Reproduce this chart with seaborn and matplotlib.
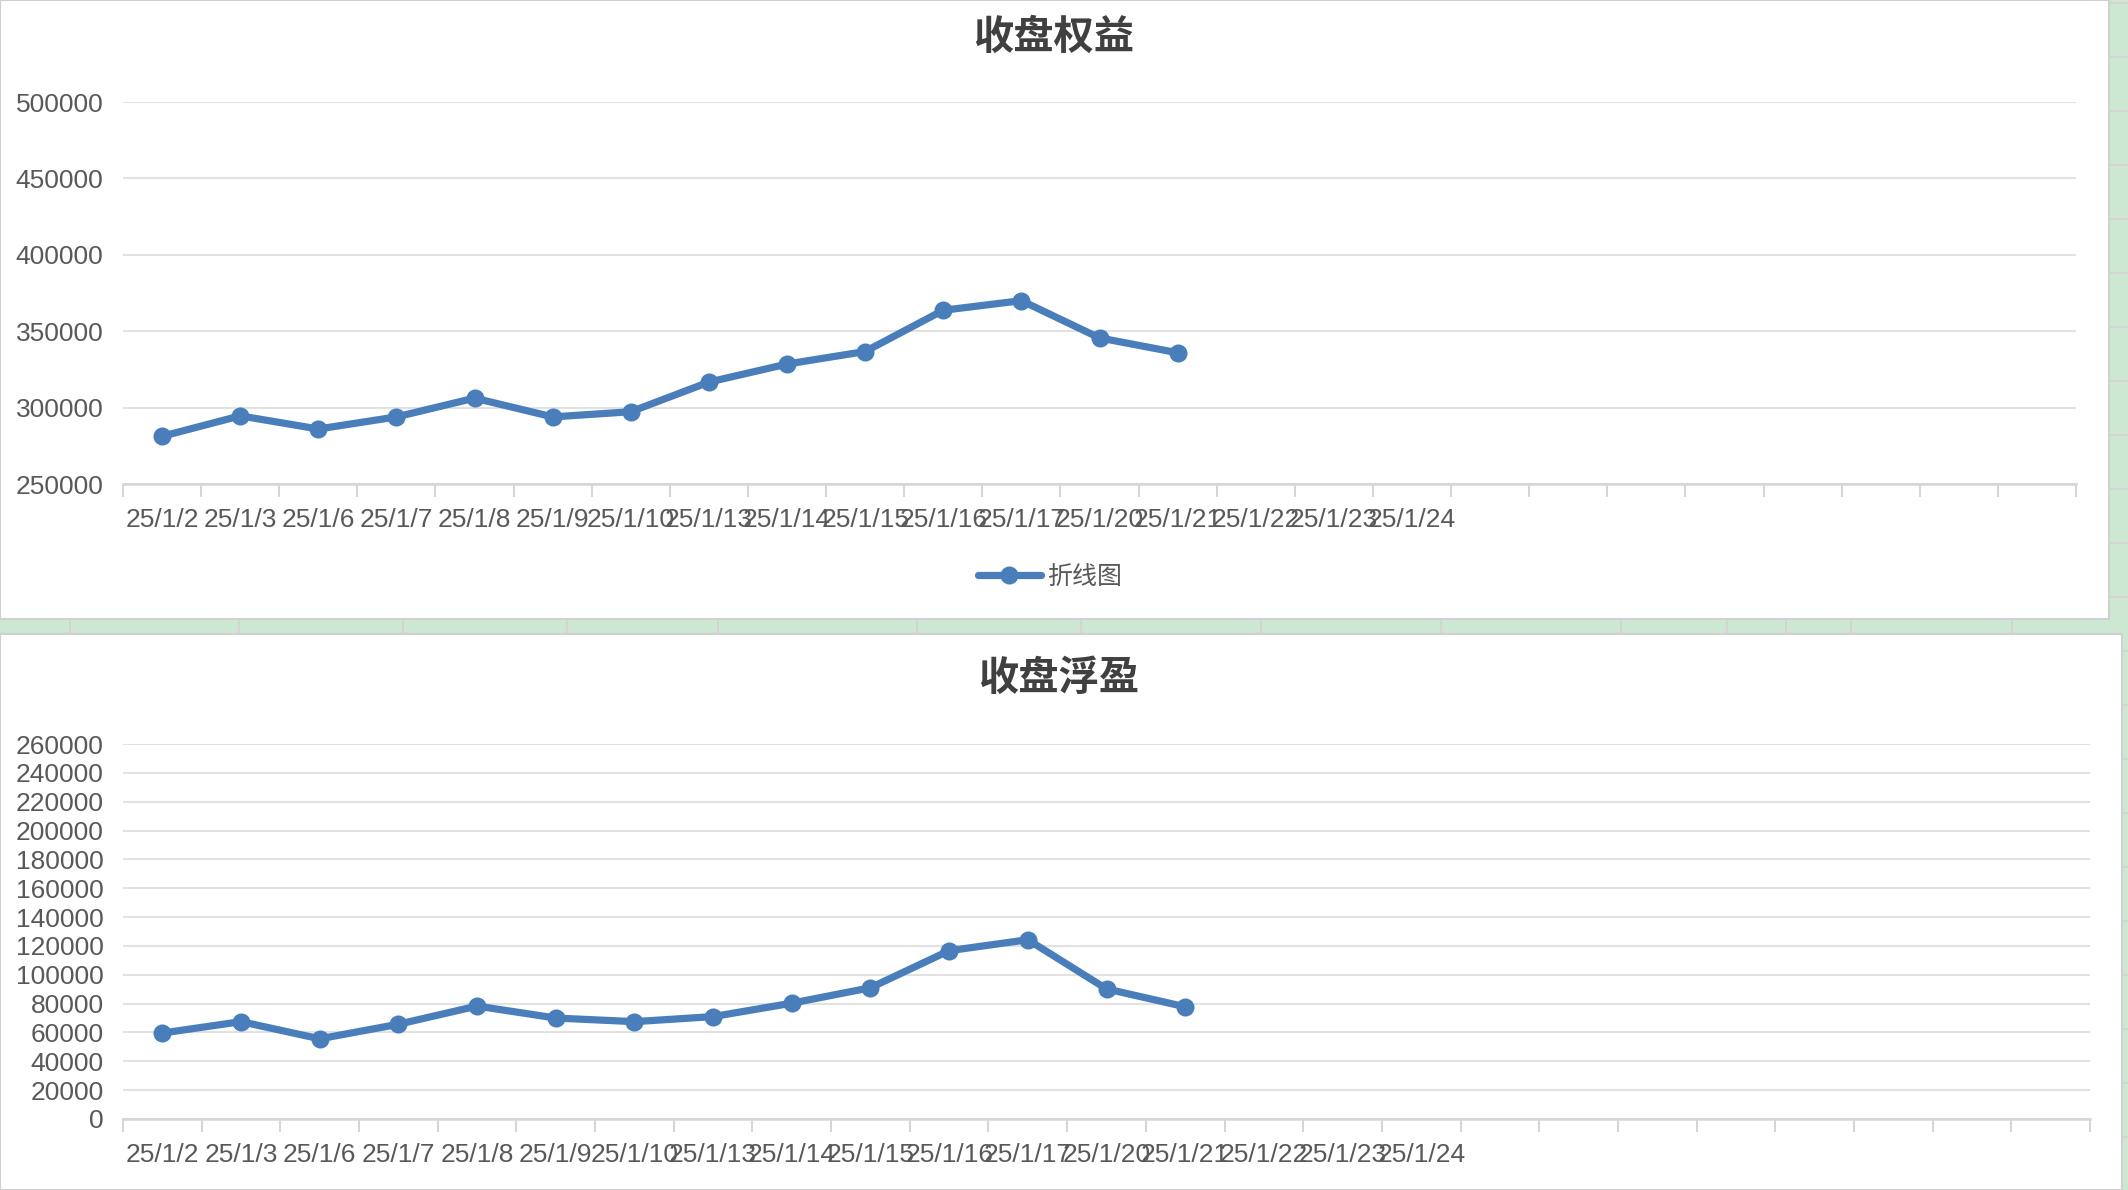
import numpy as np
import pandas as pd
import matplotlib
matplotlib.use("Agg")
import matplotlib.pyplot as plt
import seaborn as sns
from matplotlib.patches import Rectangle
from matplotlib.lines import Line2D

# ---------------- data ----------------
dates = ["25/1/2", "25/1/3", "25/1/6", "25/1/7", "25/1/8", "25/1/9", "25/1/10",
         "25/1/13", "25/1/14", "25/1/15", "25/1/16", "25/1/17", "25/1/20",
         "25/1/21", "25/1/22", "25/1/23", "25/1/24"]
n_slots = 25  # category slots on the axis (extra ones are blank)

equity = [281200, 294600, 286000, 293900, 306200, 293900, 297300,
          316700, 328500, 336700, 363700, 370000, 345600, 335900]
float_pnl = [59600, 67500, 55600, 65700, 78300, 70000, 67500,
             71000, 80300, 91000, 116700, 124300, 90200, 77800]

top_title = "收盘权益"
bottom_title = "收盘浮盈"
series_name = "折线图"
top_yticks = [250000, 300000, 350000, 400000, 450000, 500000]
bottom_yticks = list(range(0, 260001, 20000))

# ---------------- style ----------------
sns.set_style("white")
plt.rcParams['font.family'] = ['Liberation Sans', 'Noto Sans CJK SC', 'DejaVu Sans']

W, H = 2128, 1190
fig = plt.figure(figsize=(W / 100, H / 100), dpi=100)
fig.patch.set_facecolor('#cde8d2')

LINE = '#4a7ebb'
GRID = '#e2e2e2'
AXC = '#d6d6d6'
TXT = '#595959'
TITLE_C = '#404040'
LW = 5.2
MS = 13


def fx(px):
    return px / W


def fy(py):
    return 1 - py / H


# spreadsheet grid lines in the green background
for x in [70, 239, 403, 567, 718, 917, 1081, 1261, 1441, 1621, 1727, 1786, 1851, 2012]:
    fig.add_artist(Line2D([fx(x), fx(x)], [fy(619), fy(634)], color='#d4d4d4', lw=1.5, zorder=0))
for y in range(3, 1190, 54):
    fig.add_artist(Line2D([fx(2109), fx(2128)], [fy(y), fy(y)], color='#d4d4d4', lw=1.5, zorder=0))

# white chart panels
fig.add_artist(Rectangle((0, fy(619)), fx(2109), 619 / H, facecolor='white',
                         edgecolor='#d0d0d0', lw=1.5, zorder=1))
fig.add_artist(Rectangle((0, 0), fx(2122), (H - 634) / H, facecolor='white',
                         edgecolor='#d0d0d0', lw=1.5, zorder=1))


def style_axis(ax, yticks):
    ax.set_facecolor('none')
    ax.set_zorder(2)
    ax.set_xlim(-0.5, n_slots - 0.5)
    ax.set_ylim(yticks[0], yticks[-1])
    ax.set_yticks(yticks)
    ax.set_yticklabels([str(v) for v in yticks])
    ax.set_xticks(range(len(dates)))
    ax.set_xticklabels(dates)
    ax.set_xticks(np.arange(-0.5, n_slots, 1.0), minor=True)
    ax.tick_params(axis='x', which='major', bottom=True, length=0, pad=17,
                   labelsize=19, labelcolor=TXT)
    ax.tick_params(axis='x', which='minor', bottom=True, length=9, width=1.5,
                   color=AXC, direction='out')
    ax.tick_params(axis='y', which='major', left=True, length=0, pad=14,
                   labelsize=19, labelcolor=TXT)
    ax.grid(axis='y', color=GRID, lw=1.5)
    ax.grid(axis='x', visible=False)
    for s in ['top', 'right', 'left']:
        ax.spines[s].set_visible(False)
    ax.spines['bottom'].set_color(AXC)
    ax.spines['bottom'].set_linewidth(1.8)
    ax.set_xlabel('')
    ax.set_ylabel('')


# ---------------- top chart ----------------
ax1 = fig.add_axes([fx(123), fy(484), fx(2076 - 123), (484 - 102) / H])
df1 = pd.DataFrame({'x': np.arange(len(equity)), 'y': equity})
sns.lineplot(data=df1, x='x', y='y', ax=ax1, color=LINE, linewidth=LW,
             marker='o', markersize=MS, markeredgewidth=0, legend=False)
style_axis(ax1, top_yticks)
fig.text(fx(1054), fy(37), top_title, ha='center', va='center', fontsize=29,
         fontweight='bold', color=TITLE_C, family=['Noto Sans CJK SC'])
h = Line2D([], [], color=LINE, lw=LW, marker='o', markersize=MS, markeredgewidth=0,
           solid_capstyle='round')
fig.legend([h], [series_name], loc='center', bbox_to_anchor=(fx(1050), fy(577)),
           frameon=False, handlelength=2.5, handletextpad=0.25,
           labelcolor=TXT, prop={'family': ['Noto Sans CJK SC'], 'size': 18})

# ---------------- bottom chart ----------------
ax2 = fig.add_axes([fx(123), fy(1119), fx(2090 - 123), (1119 - 744) / H])
df2 = pd.DataFrame({'x': np.arange(len(float_pnl)), 'y': float_pnl})
sns.lineplot(data=df2, x='x', y='y', ax=ax2, color=LINE, linewidth=LW,
             marker='o', markersize=MS, markeredgewidth=0, legend=False)
style_axis(ax2, bottom_yticks)
fig.text(fx(1059), fy(678), bottom_title, ha='center', va='center', fontsize=29,
         fontweight='bold', color=TITLE_C, family=['Noto Sans CJK SC'])

fig.savefig('out.png', dpi=100, facecolor=fig.get_facecolor())
